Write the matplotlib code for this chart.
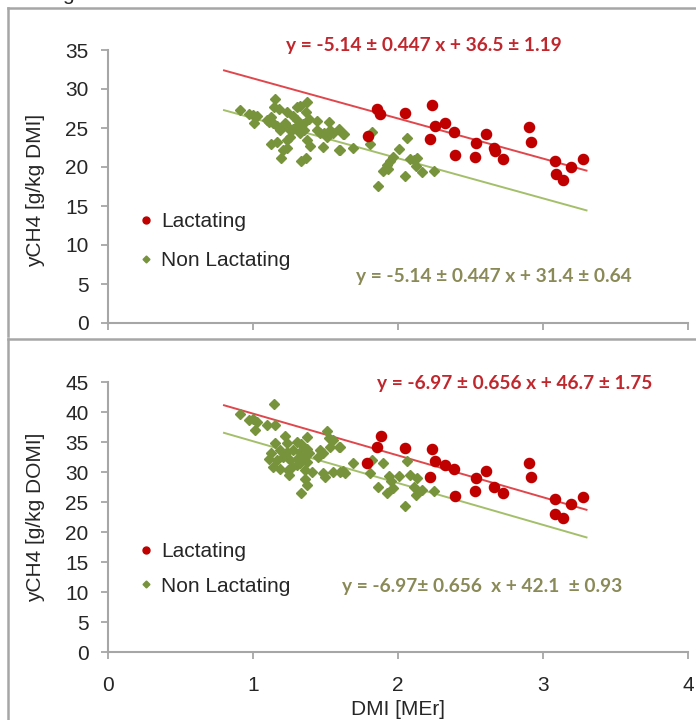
import matplotlib
matplotlib.use("Agg")
import matplotlib.pyplot as plt
from matplotlib.lines import Line2D
import numpy as np

# ---------------- data ----------------
# Top panel: yCH4 [g/kg DMI]
top_lact_x = [1.855, 1.876, 2.05, 2.234, 2.257, 2.326, 2.386, 2.22, 1.79, 2.395, 2.538,
              2.607, 2.533, 2.662, 2.667, 2.722, 2.9, 2.915, 3.08, 3.09, 3.136, 3.19, 3.273]
top_lact_y = [27.4, 26.8, 26.9, 27.95, 25.25, 25.7, 24.5, 23.55, 23.97, 21.5, 23.05,
              24.2, 21.33, 22.5, 22.1, 21.0, 25.17, 23.24, 20.8, 19.1, 18.3, 20.0, 21.0]

top_non_x = [0.910, 0.975, 0.998, 1.025, 1.007, 1.094, 1.113, 1.149, 1.145, 1.182, 1.232,
             1.274, 1.301, 1.324, 1.375, 1.366, 1.389, 1.122, 1.140, 1.163, 1.186, 1.223,
             1.232, 1.255, 1.278, 1.301, 1.324, 1.343, 1.352, 1.324, 1.255, 1.232, 1.370,
             1.393, 1.439, 1.443, 1.462, 1.490, 1.508, 1.526, 1.531, 1.554, 1.591, 1.628,
             1.591, 1.480, 1.122, 1.163, 1.205, 1.232, 1.191, 1.333, 1.366, 1.301,
             1.623, 1.600, 1.692, 1.818, 1.807, 2.060, 2.009, 1.963, 1.945, 1.922, 1.933,
             1.894, 1.864, 2.048, 2.083, 2.110, 2.129, 2.124, 2.163, 2.248]
top_non_y = [27.3, 26.8, 26.7, 26.5, 25.7, 26.0, 25.8, 28.7, 27.7, 27.4, 27.0,
             26.6, 27.7, 27.8, 28.3, 27.05, 26.1, 26.45, 25.6, 25.2, 24.7, 25.7,
             25.2, 24.7, 24.9, 25.2, 25.35, 25.5, 24.7, 24.3, 23.9, 23.5, 23.5,
             22.7, 25.9, 24.7, 24.4, 24.3, 23.9, 25.8, 24.7, 24.3, 24.9, 24.2,
             22.2, 22.6, 23.0, 23.2, 22.2, 22.4, 21.1, 20.8, 21.1, 26.0,
             24.2, 22.2, 22.4, 24.5, 23.0, 23.7, 22.3, 21.3, 20.8, 20.3, 19.8,
             19.5, 17.6, 18.8, 21.0, 20.9, 21.2, 20.1, 19.3, 19.5]

# Bottom panel: yCH4 [g/kg DOMI]
bot_lact_x = [1.880, 1.857, 1.788, 2.050, 2.234, 2.257, 2.326, 2.386, 2.220, 2.395, 2.538,
              2.607, 2.533, 2.662, 2.722, 2.900, 2.915, 3.080, 3.190, 3.273, 3.080, 3.136]
bot_lact_y = [36.0, 34.2, 31.55, 34.0, 33.8, 31.8, 31.2, 30.55, 29.2, 26.0, 29.0,
              30.2, 26.9, 27.45, 26.45, 31.55, 29.2, 25.5, 24.7, 25.8, 23.0, 22.4]

bot_non_x = [1.145, 0.910, 0.970, 0.998, 1.030, 1.016, 1.094, 1.154, 1.223, 1.149, 1.232,
             1.301, 1.333, 1.370, 1.508, 1.526, 1.554, 1.462, 1.531, 1.591, 1.485, 1.448,
             1.126, 1.186, 1.232, 1.278, 1.324, 1.370, 1.389, 1.108, 1.163, 1.209, 1.255,
             1.301, 1.347, 1.324, 1.370, 1.136, 1.186, 1.241, 1.269, 1.301, 1.357, 1.407,
             1.246, 1.480, 1.499, 1.554, 1.600, 1.637, 1.357, 1.375, 1.333,
             1.600, 1.619, 1.692, 1.818, 1.807, 1.894, 1.864, 1.922, 1.936, 1.950, 1.963,
             2.009, 2.060, 2.083, 2.129, 2.110, 2.124, 2.163, 2.248, 2.050]
bot_non_y = [41.4, 39.7, 38.7, 38.9, 38.3, 37.0, 37.8, 37.9, 36.0, 34.8, 34.8,
             35.0, 34.7, 35.9, 36.8, 35.6, 35.3, 33.7, 34.2, 34.1, 33.2, 32.55,
             33.2, 33.7, 33.3, 33.7, 33.3, 33.9, 33.1, 32.2, 32.0, 32.55, 32.0,
             32.1, 32.55, 31.45, 31.7, 30.8, 30.55, 30.3, 30.9, 31.1, 30.3, 30.0,
             29.45, 29.8, 29.1, 30.0, 30.0, 29.8, 28.9, 27.8, 26.55,
             34.2, 30.1, 31.55, 32.0, 29.8, 31.45, 27.45, 26.45, 29.3, 28.55, 27.3,
             29.3, 31.9, 29.45, 29.0, 27.45, 26.2, 27.0, 26.8, 24.3]

# regression fits: slope, intercepts (lactating, non lactating)
top_slope, top_int_lact, top_int_non = -5.14, 36.5, 31.4
bot_slope, bot_int_lact, bot_int_non = -6.97, 46.7, 42.1
fit_range = [0.8, 3.3]

top_eq_lact = "y = -5.14 \u00b1 0.447 x + 36.5 \u00b1 1.19"
top_eq_non = "y = -5.14 \u00b1 0.447 x + 31.4 \u00b1 0.64"
bot_eq_lact = "y = -6.97 \u00b1 0.656 x + 46.7 \u00b1 1.75"
bot_eq_non = "y = -6.97\u00b1 0.656  x + 42.1  \u00b1 0.93"

x_ticks = [0, 1, 2, 3, 4]
top_yticks = [0, 5, 10, 15, 20, 25, 30, 35]
bot_yticks = [0, 5, 10, 15, 20, 25, 30, 35, 40, 45]
labels = ["Lactating", "Non Lactating"]

# ---------------- style ----------------
RED_PT = "#c00000"
RED_LN = "#e0474c"
GRN_PT = "#77933c"
GRN_LN = "#a4bf6a"
RED_TX = "#c0272d"
GRN_TX = "#8a8a58"
AX_COL = "#a6a6a6"
TXT = "#262626"

plt.rcParams["font.family"] = ["Liberation Sans", "DejaVu Sans"]

fig = plt.figure(figsize=(6.96, 7.2), dpi=100)

# panel frames (figure pixels -> fractions)
W, H = 696.0, 720.0
def fx(p): return p / W
def fy(p): return 1 - p / H
frame_kw = dict(color=AX_COL, lw=1.8, transform=fig.transFigure)
fig.add_artist(Line2D([fx(8), fx(8)], [fy(8), fy(336)], **frame_kw))
fig.add_artist(Line2D([fx(8), 1.0], [fy(8), fy(8)], **frame_kw))
fig.add_artist(Line2D([fx(8), fx(8)], [fy(339), 0.0], **frame_kw))
fig.add_artist(Line2D([fx(8), 1.0], [fy(339), fy(339)], **frame_kw))
fig.text(fx(62), 1.0, "g", fontsize=15, color=TXT, va="baseline", ha="left")

ax_top = fig.add_axes([fx(108), fy(323), fx(580), (323 - 50) / H])
ax_bot = fig.add_axes([fx(108), fy(652), fx(580), (652 - 382) / H])

def style(ax, yticks, ylim):
    ax.set_xlim(0, 4)
    ax.set_ylim(*ylim)
    ax.set_xticks(x_ticks)
    ax.set_yticks(yticks)
    for s in ["top", "right"]:
        ax.spines[s].set_visible(False)
    for s in ["left", "bottom"]:
        ax.spines[s].set_color(AX_COL)
        ax.spines[s].set_linewidth(1.5)
    ax.tick_params(colors=AX_COL, labelcolor=TXT, length=5, width=1.3,
                   direction="out", labelsize=15)
    ax.tick_params(axis="y", pad=9)
    ax.tick_params(axis="x", pad=12)
    ax.patch.set_alpha(0)

def panel(ax, lx, ly, nx, ny, slope, il, inn, ms_c, ms_d):
    xs = np.array(fit_range)
    ax.plot(xs, slope * xs + il, color=RED_LN, lw=1.4, zorder=2)
    ax.plot(xs, slope * xs + inn, color=GRN_LN, lw=1.4, zorder=2)
    ax.plot(nx, ny, ls="none", marker="D", ms=ms_d, color=GRN_PT, mec=GRN_PT, zorder=3)
    ax.plot(lx, ly, ls="none", marker="o", ms=ms_c, color=RED_PT, mec=RED_PT, zorder=4)

panel(ax_top, top_lact_x, top_lact_y, top_non_x, top_non_y,
      top_slope, top_int_lact, top_int_non, 7.3, 5.2)
panel(ax_bot, bot_lact_x, bot_lact_y, bot_non_x, bot_non_y,
      bot_slope, bot_int_lact, bot_int_non, 7.3, 5.2)

style(ax_top, top_yticks, (0, 35))
style(ax_bot, bot_yticks, (0, 45))
ax_top.set_xticklabels([])

ax_top.set_ylabel("yCH4 [g/kg DMI]", fontsize=15, color=TXT)
ax_bot.set_ylabel("yCH4 [g/kg DOMI]", fontsize=15, color=TXT)
ax_top.yaxis.set_label_coords(-(108 - 45) / 580, (323 - 190) / 273)
ax_bot.yaxis.set_label_coords(-(108 - 45) / 580, 0.5)
ax_bot.set_xlabel("DMI [MEr]", fontsize=15, color=TXT, labelpad=4)

eq_kw = dict(fontsize=13.8, fontweight="bold", family=["Lato", "DejaVu Sans"],
             ha="center", va="center")
ax_top.text(0.545, 1.015, top_eq_lact, color=RED_TX, transform=ax_top.transAxes, **eq_kw)
ax_top.text(0.666, 0.172, top_eq_non, color=GRN_TX, transform=ax_top.transAxes, **eq_kw)
ax_bot.text(0.702, 0.993, bot_eq_lact, color=RED_TX, transform=ax_bot.transAxes, **eq_kw)
ax_bot.text(0.645, 0.241, bot_eq_non, color=GRN_TX, transform=ax_bot.transAxes, **eq_kw)

def legend(ax, anchor, spacing):
    h = [Line2D([], [], ls="none", marker="o", ms=5, color=RED_PT),
         Line2D([], [], ls="none", marker="D", ms=3.5, color=GRN_PT)]
    lg = ax.legend(h, labels, loc="upper left", bbox_to_anchor=anchor, frameon=False,
                   fontsize=15, handlelength=0.6, handletextpad=0.4, borderpad=0,
                   borderaxespad=0, labelspacing=spacing)
    for t in lg.get_texts():
        t.set_color(TXT)

legend(ax_top, ((140 - 108) / 580, (323 - 212) / 273), 0.95)
legend(ax_bot, ((140 - 108) / 580, (652 - 542) / 270), 0.75)

fig.savefig("out.png", dpi=100)
